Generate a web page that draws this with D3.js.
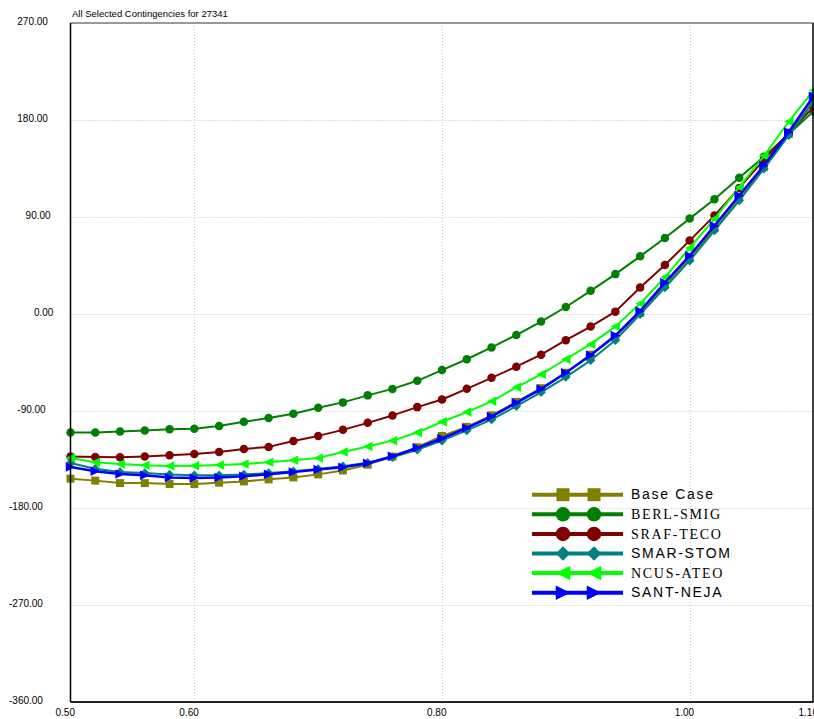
<!DOCTYPE html>
<html><head><meta charset="utf-8">
<script src="https://cdn.jsdelivr.net/npm/d3@7"></script>
<style>body{margin:0;background:#fff} svg{display:block}</style>
</head><body>
<script>
const chartTitle = "All Selected Contingencies for 27341";
const xValues = [0.50,0.52,0.54,0.56,0.58,0.60,0.62,0.64,0.66,0.68,0.70,0.72,0.74,0.76,0.78,0.80,
                 0.82,0.84,0.86,0.88,0.90,0.92,0.94,0.96,0.98,1.00,1.02,1.04,1.06,1.08,1.10];
const baseCase = [-152.8,-154.6,-156.9,-156.9,-157.8,-157.8,-156.5,-155.3,-153.4,-151.6,-148.8,-145.2,-139.8,-132.3,-123.6,-113.2,
                  -104.7,-94,-81.5,-68.8,-54.5,-37.7,-21,1,27,52,79.5,108,136.5,167,198];
const berlSmig = [-110,-110,-109,-108,-107,-106.5,-104,-100,-96.5,-92.5,-87,-82,-75.5,-69.5,-62,-52,
                  -42,-31,-19.5,-7,6.5,21.5,37,53.5,70.5,88.5,106.5,126.5,146,167,188];
const srafTeco = [-132.3,-132.7,-133,-132.3,-131.1,-129.9,-128,-125.2,-123.3,-117.8,-113.1,-107.5,-101,-94.1,-86.4,-79.3,
                  -69.4,-59.2,-48.9,-37.7,-24.3,-11.7,2.2,24.6,45.4,68.1,91.3,117,143,168,192];
const smarStom = [-138.3,-143.5,-146.6,-147.6,-149,-149.7,-149.7,-149,-147.6,-146,-143.8,-141.3,-138,-133,-126,-117.5,
                  -108,-98,-85.5,-72.7,-58.5,-43,-24.3,-0.3,24.6,49.5,77.4,105.2,134.8,165.8,196.7];
const ncusAteo = [-133.6,-137.6,-139.2,-140.4,-141,-140.7,-140.1,-139.2,-137.6,-135.7,-133.6,-128,-123,-117.5,-110,-100,
                  -91,-81,-68,-56,-42,-28,-11.7,9.7,34,61.3,88.3,117.7,146.6,178.5,207.6];
const santNeja = [-142,-146,-148.5,-149.7,-151.6,-152.2,-151.6,-150.6,-148.7,-146.5,-144.2,-142.2,-138.5,-132,-124.2,-115.5,
                  -105.7,-95.2,-82.4,-69.7,-54.5,-38.3,-20,2.8,29.1,54.1,81.9,109.9,137.8,168.8,202];
const seriesNames = ["Base Case","BERL-SMIG","SRAF-TECO","SMAR-STOM","NCUS-ATEO","SANT-NEJA"];
const seriesValues = [baseCase, berlSmig, srafTeco, smarStom, ncusAteo, santNeja];
const xTicks = [0.50,0.60,0.80,1.00,1.10];
const xTickLabels = ["0.50","0.60","0.80","1.00","1.10"];
const yTicks = [270,180,90,0,-90,-180,-270,-360];
const yTickLabels = ["270.00","180.00","90.00","0.00","-90.00","-180.00","-270.00","-360.00"];

// styles
const colors = ["#808000","#008000","#800000","#008080","#00ff00","#0000ff"];
const shapes = ["square","circle","circle","diamond","triLeft","triRight"];
const legendFonts = ["Liberation Sans, Arial, sans-serif","Liberation Serif, Times New Roman, serif","Liberation Serif, Times New Roman, serif",
                     "Liberation Sans, Arial, sans-serif","Liberation Serif, Times New Roman, serif","Liberation Sans, Arial, sans-serif"];

const W = 814, H = 719;
const pLeft = 70.5, pRight = 813.5, pTop = 23, pBottom = 702;
const x = d3.scaleLinear().domain([0.5, 1.1]).range([pLeft, pRight]);
const y = d3.scaleLinear().domain([-360, 270]).range([pBottom, pTop]);

function shapePath(type, s) {
  const h = s / 2;
  switch (type) {
    case "square": return `M${-h},${-h}h${s}v${s}h${-s}Z`;
    case "circle": return `M${-h},0a${h},${h} 0 1,0 ${s},0a${h},${h} 0 1,0 ${-s},0Z`;
    case "diamond": return `M0,${-h}L${h},0L0,${h}L${-h},0Z`;
    case "triLeft": return `M${-h},0L${h},${-h}L${h},${h}Z`;
    case "triRight": return `M${h},0L${-h},${-h}L${-h},${h}Z`;
  }
}

const svg = d3.select("body").append("svg").attr("width", W).attr("height", H)
  .style("font-family", "Liberation Sans, Arial, sans-serif");

// title
svg.append("text").attr("x", 72).attr("y", 16.5).attr("font-size", 9.5).attr("fill", "#000").text(chartTitle);

// grid
const grid = svg.append("g").attr("stroke", "#c4c4c4").attr("stroke-width", 1).attr("stroke-dasharray", "1,2");
grid.selectAll("line.v").data(xTicks.filter(d => d > 0.5 && d < 1.1)).join("line")
  .attr("x1", d => Math.round(x(d)) + 0.5).attr("x2", d => Math.round(x(d)) + 0.5).attr("y1", pTop).attr("y2", pBottom);
grid.selectAll("line.h").data(yTicks.filter(d => d < 270 && d > -360)).join("line")
  .attr("x1", pLeft).attr("x2", pRight).attr("y1", d => Math.round(y(d)) + 0.5).attr("y2", d => Math.round(y(d)) + 0.5);

// axes
const xAxis = d3.axisBottom(x).tickValues(xTicks).tickFormat((d, i) => xTickLabels[i]).tickSize(0);
const gx = svg.append("g").attr("transform", `translate(0,${pBottom})`).call(xAxis);
gx.select(".domain").remove();
gx.selectAll("text").attr("text-anchor", "start").attr("x", -15.5).attr("y", 13.5).attr("dy", 0)
  .attr("font-size", 10).attr("font-family", "Liberation Sans, Arial, sans-serif").attr("fill", "#000");

const yAxis = d3.axisLeft(y).tickValues(yTicks).tickFormat((d, i) => yTickLabels[i]).tickSize(0);
const gy = svg.append("g").attr("transform", `translate(${pLeft},0)`).call(yAxis);
gy.select(".domain").remove();
gy.selectAll("text").attr("text-anchor", "start")
  .attr("x", (d, i) => 9 + (7 - yTickLabels[i].length) * 8.3 - pLeft)
  .attr("y", -2).attr("dy", "0.35em")
  .attr("font-size", 10).attr("font-family", "Liberation Sans, Arial, sans-serif").attr("fill", "#000");

// series
const line = d3.line().x((d, i) => x(xValues[i])).y(d => y(d));
const plot = svg.append("g");
seriesValues.forEach((vals, k) => {
  const g = plot.append("g");
  g.append("path").datum(vals).attr("d", line).attr("fill", "none")
    .attr("stroke", colors[k]).attr("stroke-width", k === 5 ? 2.5 : 2).attr("stroke-linejoin", "round");
  const sz = shapes[k] === "square" ? 8 : shapes[k] === "circle" ? 8.5 : 9.5;
  g.selectAll("path.m").data(vals).join("path").attr("class", "m")
    .attr("transform", (d, i) => `translate(${x(xValues[i])},${y(d)})`)
    .attr("d", shapePath(shapes[k], sz)).attr("fill", colors[k]);
});

// frame
svg.append("line").attr("x1", pLeft).attr("x2", pRight).attr("y1", pTop).attr("y2", pTop).attr("stroke", "#777").attr("stroke-width", 1.5);
svg.append("line").attr("x1", pLeft).attr("x2", pRight).attr("y1", pBottom).attr("y2", pBottom).attr("stroke", "#222").attr("stroke-width", 2);
svg.append("line").attr("x1", pLeft).attr("x2", pLeft).attr("y1", pTop).attr("y2", pBottom).attr("stroke", "#000").attr("stroke-width", 1.5);
svg.append("line").attr("x1", pRight - 0.5).attr("x2", pRight - 0.5).attr("y1", pTop).attr("y2", pBottom).attr("stroke", "#000").attr("stroke-width", 1.5);

// legend
const legend = svg.append("g");
const legendY0 = 494.7, legendStep = 19.6;
seriesNames.forEach((name, k) => {
  const ly = legendY0 + k * legendStep;
  const g = legend.append("g").attr("transform", `translate(0,${ly})`);
  g.append("line").attr("x1", 532).attr("x2", 623).attr("y1", 0).attr("y2", 0)
    .attr("stroke", colors[k]).attr("stroke-width", 4);
  const ls = shapes[k] === "square" ? 13 : 14.5;
  [563, 594].forEach(mx => g.append("path").attr("transform", `translate(${mx},0)`)
    .attr("d", shapePath(shapes[k], ls)).attr("fill", colors[k]));
  g.append("text").attr("x", 631).attr("y", 4.6).attr("font-size", 14).attr("letter-spacing", 1.7)
    .attr("font-family", legendFonts[k]).attr("fill", "#000").text(name);
});
</script>
</body></html>
